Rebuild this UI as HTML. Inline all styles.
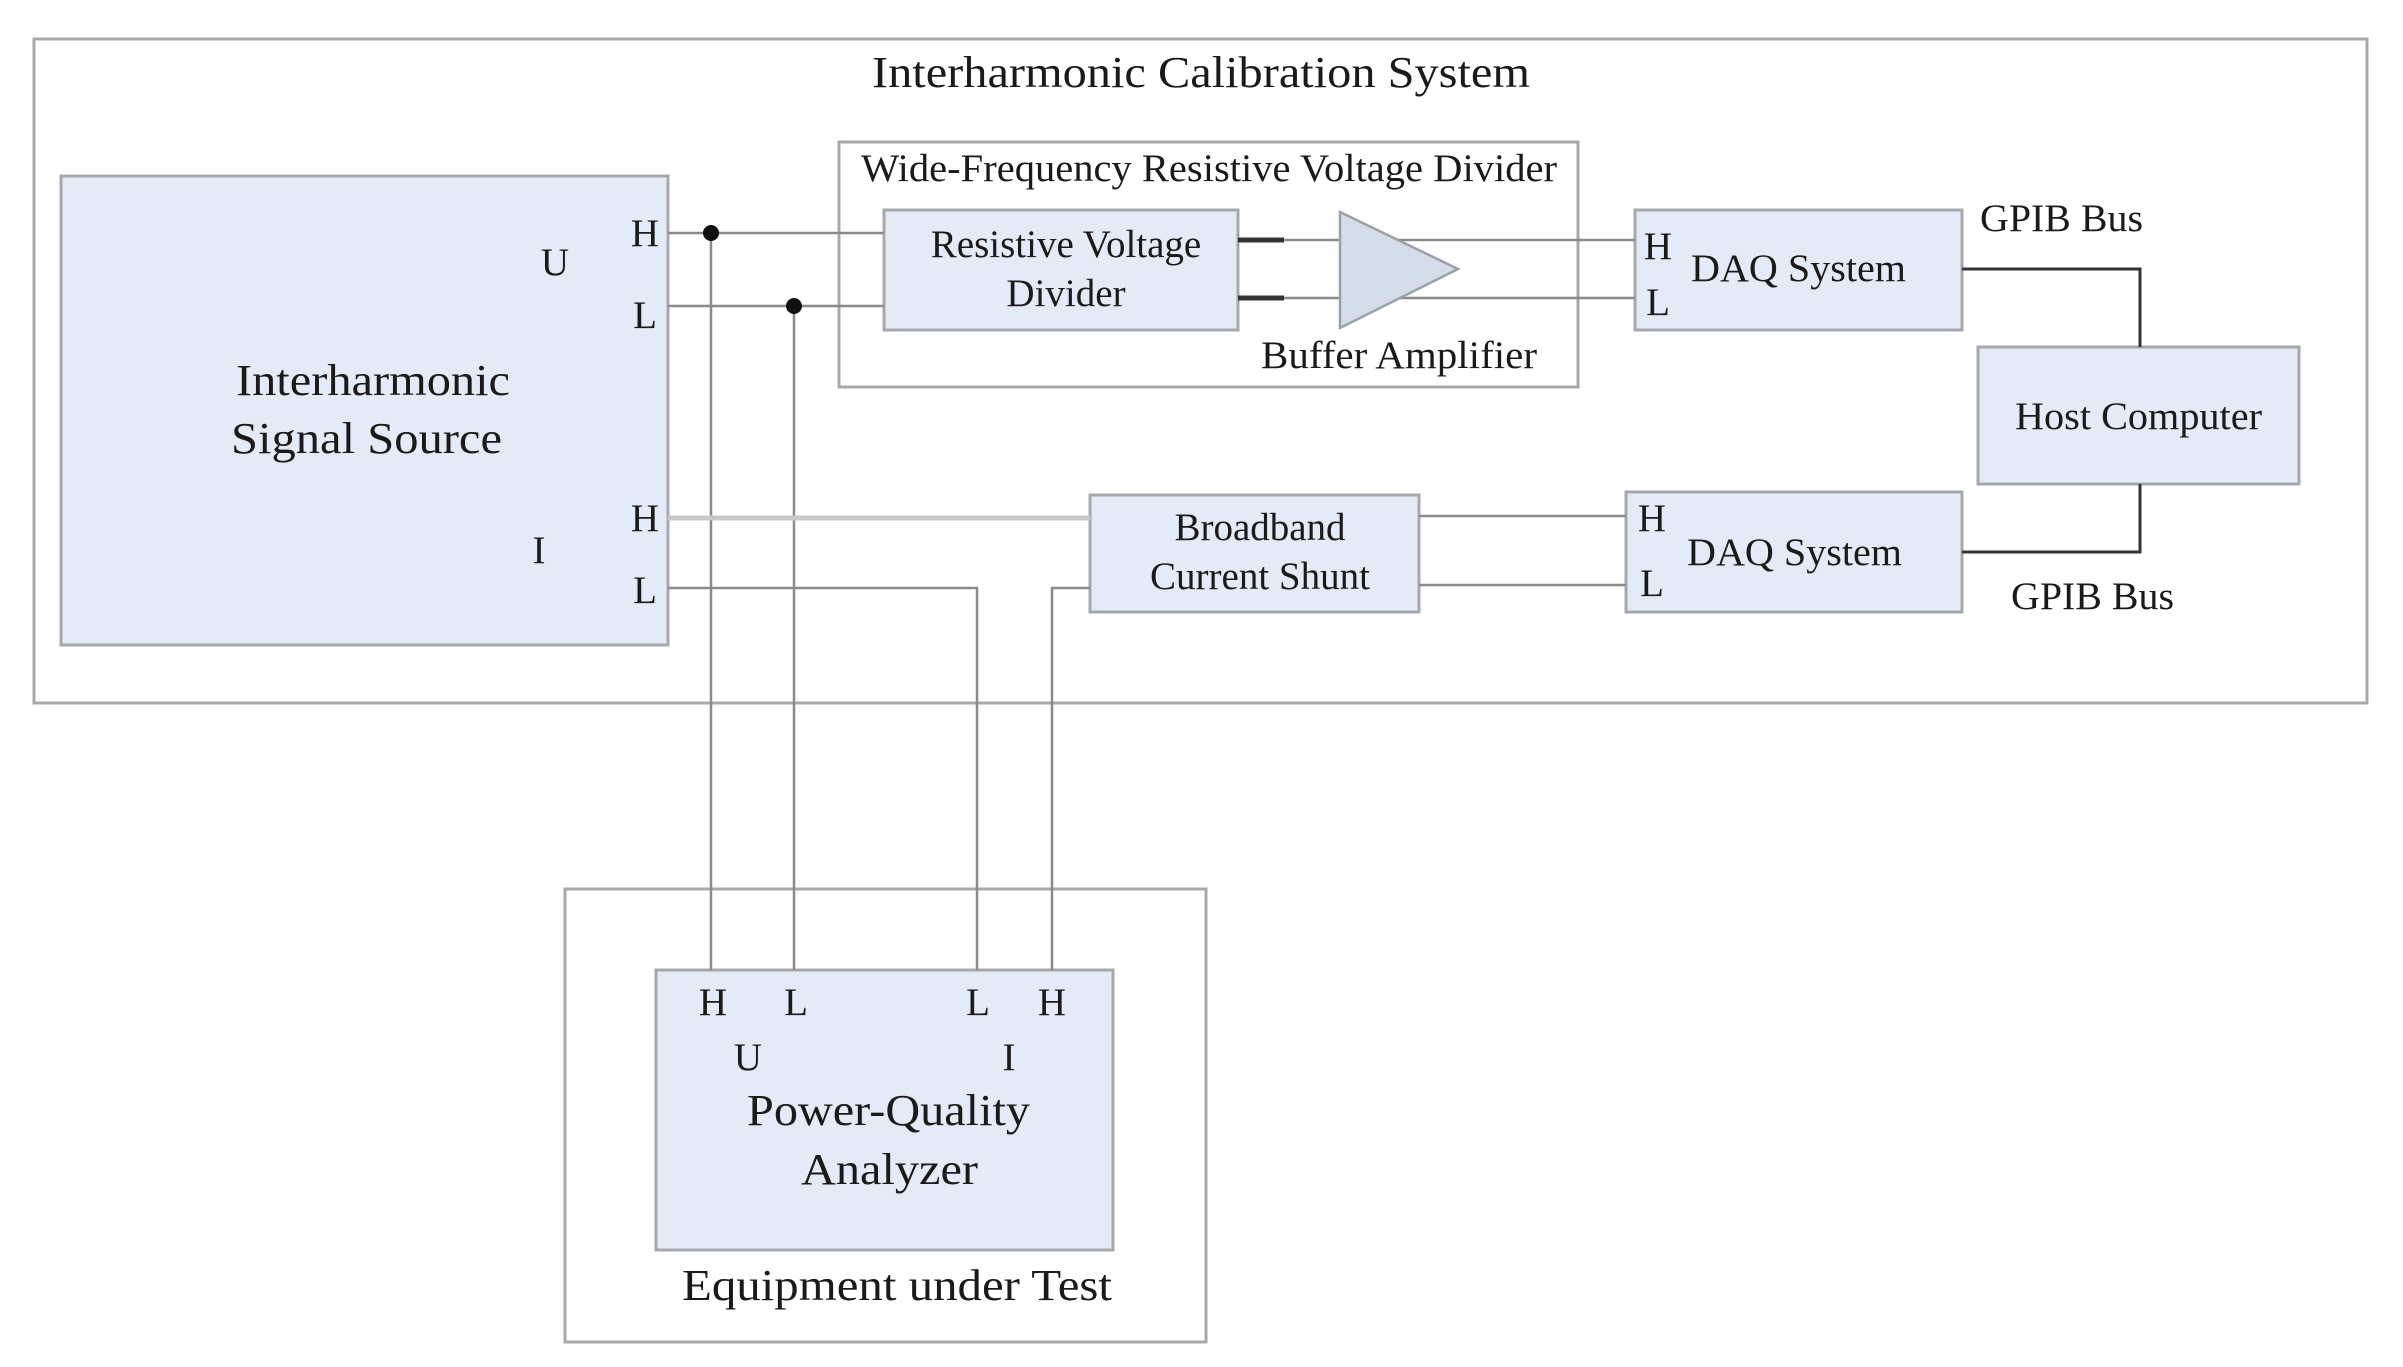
<!DOCTYPE html>
<html><head><meta charset="utf-8"><style>html,body{margin:0;padding:0;background:#fff}svg{display:block}</style></head>
<body>
<svg width="2403" height="1367" viewBox="0 0 2403 1367" xmlns="http://www.w3.org/2000/svg" font-family="'Liberation Serif', serif" fill="#1a1a1a">
<g fill="none" stroke="#a8a8a8" stroke-width="3">
<rect x="34" y="39" width="2333" height="664"/>
<rect x="839" y="142" width="739" height="245"/>
<rect x="565" y="889" width="641" height="453"/>
</g>
<g fill="#e5ebf6" stroke="#a5a9ae" stroke-width="3">
<rect x="61" y="176" width="607" height="469"/>
<rect x="884" y="210" width="354" height="120"/>
<rect x="1090" y="495" width="329" height="117"/>
<rect x="1635" y="210" width="327" height="120"/>
<rect x="1626" y="492" width="336" height="120"/>
<rect x="1978" y="347" width="321" height="137"/>
<rect x="656" y="970" width="457" height="280"/>
</g>
<g stroke="#8a8a8a" stroke-width="2.5" fill="none">
<line x1="668" y1="233" x2="884" y2="233"/>
<line x1="668" y1="306" x2="884" y2="306"/>
<line x1="711" y1="233" x2="711" y2="970"/>
<line x1="794" y1="306" x2="794" y2="970"/>
<polyline points="668,588 977,588 977,970"/>
<polyline points="1090,588 1052,588 1052,970"/>
<line x1="1284" y1="240" x2="1635" y2="240"/>
<line x1="1284" y1="298" x2="1635" y2="298"/>
<line x1="1419" y1="516" x2="1626" y2="516"/>
<line x1="1419" y1="585" x2="1626" y2="585"/>
</g>
<line x1="668" y1="518" x2="1090" y2="518" stroke="#c8c8c8" stroke-width="5"/>
<g stroke="#333" stroke-width="5">
<line x1="1238" y1="240" x2="1284" y2="240"/>
<line x1="1238" y1="298" x2="1284" y2="298"/>
</g>
<g stroke="#333" stroke-width="3" fill="none">
<polyline points="1962,269 2140,269 2140,347"/>
<polyline points="2140,484 2140,552 1962,552"/>
</g>
<polygon points="1340,212 1458,269 1340,328" fill="#d3dce8" stroke="#9aa0a8" stroke-width="2.5"/>
<circle cx="711" cy="233" r="8" fill="#111"/>
<circle cx="794" cy="306" r="8" fill="#111"/>
<g font-size="44">
<text x="872" y="87" textLength="658" lengthAdjust="spacingAndGlyphs">Interharmonic Calibration System</text>
<text x="236" y="395" textLength="274" lengthAdjust="spacingAndGlyphs">Interharmonic</text>
<text x="231" y="453" textLength="271" lengthAdjust="spacingAndGlyphs">Signal Source</text>
<text x="747" y="1125" textLength="283" lengthAdjust="spacingAndGlyphs">Power-Quality</text>
<text x="801" y="1184" textLength="177" lengthAdjust="spacingAndGlyphs">Analyzer</text>
<text x="682" y="1300" textLength="430" lengthAdjust="spacingAndGlyphs">Equipment under Test</text>
</g>
<g font-size="39">
<text x="861" y="181" textLength="696" lengthAdjust="spacingAndGlyphs">Wide-Frequency Resistive Voltage Divider</text>
<text x="1066" y="257" text-anchor="middle">Resistive Voltage</text>
<text x="1066" y="306" text-anchor="middle">Divider</text>
<text x="1261" y="368" textLength="276" lengthAdjust="spacingAndGlyphs">Buffer Amplifier</text>
<text x="1260" y="540" text-anchor="middle">Broadband</text>
<text x="1260" y="589" text-anchor="middle">Current Shunt</text>
<text x="1691" y="281" textLength="215" lengthAdjust="spacingAndGlyphs">DAQ System</text>
<text x="1687" y="565" textLength="215" lengthAdjust="spacingAndGlyphs">DAQ System</text>
<text x="2015" y="429" textLength="247" lengthAdjust="spacingAndGlyphs">Host Computer</text>
<text x="1980" y="231" textLength="163" lengthAdjust="spacingAndGlyphs">GPIB Bus</text>
<text x="2011" y="609" textLength="163" lengthAdjust="spacingAndGlyphs">GPIB Bus</text>
<text x="555" y="275" text-anchor="middle">U</text>
<text x="539" y="563" text-anchor="middle">I</text>
<text x="645" y="246" text-anchor="middle">H</text>
<text x="645" y="328" text-anchor="middle">L</text>
<text x="645" y="531" text-anchor="middle">H</text>
<text x="645" y="603" text-anchor="middle">L</text>
<text x="1658" y="259" text-anchor="middle">H</text>
<text x="1658" y="315" text-anchor="middle">L</text>
<text x="1652" y="531" text-anchor="middle">H</text>
<text x="1652" y="596" text-anchor="middle">L</text>
<text x="713" y="1015" text-anchor="middle">H</text>
<text x="796" y="1015" text-anchor="middle">L</text>
<text x="978" y="1015" text-anchor="middle">L</text>
<text x="1052" y="1015" text-anchor="middle">H</text>
<text x="748" y="1070" text-anchor="middle">U</text>
<text x="1009" y="1070" text-anchor="middle">I</text>
</g>
</svg>
</body></html>
